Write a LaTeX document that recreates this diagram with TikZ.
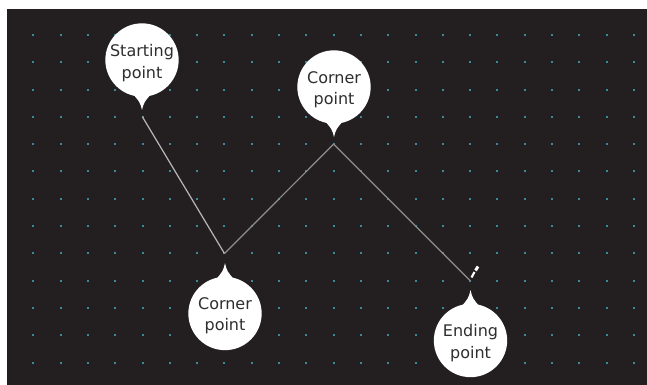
\documentclass[tikz,border=0pt]{standalone}
\usepackage{fontspec}
\setmainfont{DejaVu Sans}
\definecolor{bgdark}{HTML}{231F20}
\definecolor{dotteal}{HTML}{3A8A98}
\definecolor{textgrey}{HTML}{2E2E2E}
\definecolor{lineone}{HTML}{B8B8B8}
\definecolor{linetwo}{HTML}{8E8E8E}
\tikzset{
  callout/.style={circle, fill=white, minimum size=55pt, inner sep=0pt,
    align=center, text=textgrey, font=\fontsize{12}{16}\selectfont},
  pointer/.style={fill=white},
  seg/.style={line width=0.9pt, line cap=round}
}
\begin{document}
\begin{tikzpicture}[x=0.75pt,y=-0.75pt]
\useasboundingbox (0,0) rectangle (647,385);
\fill[white] (0,0) rectangle (647,385);
\fill[bgdark] (7,9) rectangle (647,385);
% grid dots
\foreach \i in {0,...,22}{
  \foreach \j in {0,...,12}{
    \fill[dotteal] ({33.3+27.3*\i-1},{35+27.3*\j-1}) rectangle ++(2,2);
  }
}
% path points
\coordinate (p0) at (142.5,117);
\coordinate (p1) at (224.5,253.5);
\coordinate (p2) at (333.6,144.2);
\coordinate (p3) at (470.1,280.7);
\draw[seg, lineone] (p0) -- (p1);
\draw[seg, linetwo] (p1) -- (p2) -- (p3);
% pen marker at end
\coordinate (m0) at (471.5,277.5);
\coordinate (m1) at (474.5,272);
\coordinate (m2) at (475.5,270.5);
\coordinate (m3) at (478,266.5);
\draw[white, line width=1.6pt] (m0) -- (m1);
\draw[white, line width=2.2pt] (m2) -- (m3);
% callouts
\node[callout] (cs) at (142,60) {};
\node[callout] (c2) at (334,87) {};
\node[callout] (c1) at (225,313.5) {};
\node[callout] (ce) at (470.5,340.5) {};
\node[callout, fill=none, minimum size=0pt] (ts1) at (142,63) {Starting\\point};
\node[callout, fill=none, minimum size=0pt] (t21) at (334,90) {Corner\\point};
\node[callout, fill=none, minimum size=0pt] (t11) at (225,316) {Corner\\point};
\node[callout, fill=none, minimum size=0pt] (te1) at (470.5,343) {Ending\\point};
% pointers
\coordinate (ts) at (142,110);
\coordinate (t2) at (334,137);
\coordinate (t1) at (225,263);
\coordinate (te) at (470.5,290);
\fill[pointer] ([xshift=-7.5pt,yshift=3pt]cs.south) .. controls ([xshift=-1.5pt,yshift=-4pt]cs.south) .. (ts)
  .. controls ([xshift=1.5pt,yshift=-4pt]cs.south) .. ([xshift=7.5pt,yshift=3pt]cs.south) -- cycle;
\fill[pointer] ([xshift=-7.5pt,yshift=3pt]c2.south) .. controls ([xshift=-1.5pt,yshift=-4pt]c2.south) .. (t2)
  .. controls ([xshift=1.5pt,yshift=-4pt]c2.south) .. ([xshift=7.5pt,yshift=3pt]c2.south) -- cycle;
\fill[pointer] ([xshift=-7.5pt,yshift=-3pt]c1.north) .. controls ([xshift=-1.5pt,yshift=4pt]c1.north) .. (t1)
  .. controls ([xshift=1.5pt,yshift=4pt]c1.north) .. ([xshift=7.5pt,yshift=-3pt]c1.north) -- cycle;
\fill[pointer] ([xshift=-7.5pt,yshift=-3pt]ce.north) .. controls ([xshift=-1.5pt,yshift=4pt]ce.north) .. (te)
  .. controls ([xshift=1.5pt,yshift=4pt]ce.north) .. ([xshift=7.5pt,yshift=-3pt]ce.north) -- cycle;
\end{tikzpicture}
\end{document}
